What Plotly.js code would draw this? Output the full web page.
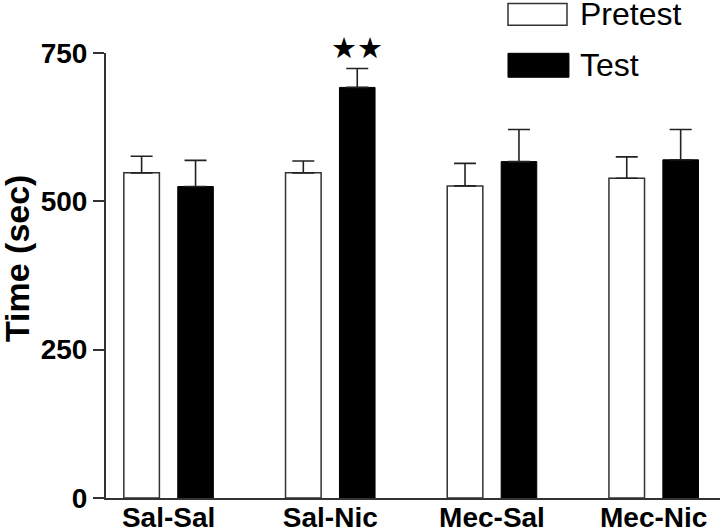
<!DOCTYPE html>
<html>
<head>
<meta charset="utf-8">
<script src="https://cdn.plot.ly/plotly-3.0.1.min.js"></script>
<style>html,body{margin:0;padding:0;background:#fff;}#chart{width:720px;height:531px;}</style>
</head>
<body>
<div id="chart"></div>
<script>
// Data
var groups = ["Sal-Sal", "Sal-Nic", "Mec-Sal", "Mec-Nic"];
var pretestValues = [548, 548, 526, 539];
var pretestErrors = [28, 20, 38, 36];
var testValues = [525, 692, 567, 570];
var testErrors = [44, 32, 54, 51];
var seriesNames = ["Pretest", "Test"];
var yTicks = [0, 250, 500, 750];
var yTitle = "Time (sec)";
var sigLabel = "\u2605\u2605";

var zeros = groups.map(function () { return 0; });

var pretest = {
  type: "bar", name: seriesNames[0], x: groups, y: pretestValues,
  marker: { color: "#ffffff", line: { color: "#333333", width: 1.5 } },
  error_y: { type: "data", symmetric: false, array: pretestErrors, arrayminus: zeros,
             color: "#222222", thickness: 1.6, width: 11 },
  showlegend: false, hoverinfo: "skip"
};
var test = {
  type: "bar", name: seriesNames[1], x: groups, y: testValues,
  marker: { color: "#000000", line: { color: "#000000", width: 1 } },
  error_y: { type: "data", symmetric: false, array: testErrors, arrayminus: zeros,
             color: "#222222", thickness: 1.6, width: 11 },
  showlegend: false, hoverinfo: "skip"
};

var font = "Liberation Sans, Arial, Helvetica, sans-serif";

var layout = {
  width: 720, height: 531,
  margin: { l: 106, r: 0, t: 53, b: 33, pad: 0 },
  paper_bgcolor: "#ffffff", plot_bgcolor: "#ffffff",
  barmode: "group", bargap: 0.333, bargroupgap: 0.34,
  showlegend: false,
  xaxis: {
    type: "category", range: [-0.387, 3.41],
    showline: true, linecolor: "#333333", linewidth: 2,
    ticks: "", showgrid: false, zeroline: false, ticklabelstandoff: -7,
    tickfont: { family: font, size: 28, color: "#000000", weight: "bold" }
  },
  yaxis: {
    range: [0, 750], tickvals: yTicks, ticktext: yTicks.map(String),
    showline: true, linecolor: "#333333", linewidth: 2,
    ticks: "outside", ticklen: 11, tickwidth: 2, tickcolor: "#333333",
    showgrid: false, zeroline: false,
    tickfont: { family: font, size: 28, color: "#000000", weight: "bold" }
  },
  shapes: [
    { type: "rect", xref: "paper", yref: "paper", x0: 0.6547, x1: 0.7508, y0: 1.0622, y1: 1.1115,
      line: { color: "#333333", width: 1.5 }, fillcolor: "#ffffff" },
    { type: "rect", xref: "paper", yref: "paper", x0: 0.6547, x1: 0.7540, y0: 0.9455, y1: 0.9993,
      line: { color: "#000000", width: 1 }, fillcolor: "#000000" }
  ],
  annotations: [
    { xref: "paper", yref: "paper", x: -0.145, y: 0.539, xanchor: "center", yanchor: "middle",
      text: yTitle, textangle: -90, showarrow: false,
      font: { family: font, size: 34, color: "#000000", weight: "bold" } },
    { xref: "paper", yref: "paper", x: 0.7687, y: 1.0869, xanchor: "left", yanchor: "middle",
      text: seriesNames[0], showarrow: false,
      font: { family: font, size: 32, color: "#000000" } },
    { xref: "paper", yref: "paper", x: 0.7687, y: 0.9725, xanchor: "left", yanchor: "middle",
      text: seriesNames[1], showarrow: false,
      font: { family: font, size: 32, color: "#000000" } },
    { xref: "x", yref: "y", x: groups[1], y: testValues[1] + testErrors[1],
      xshift: 27, yshift: 1, xanchor: "center", yanchor: "bottom",
      text: sigLabel, showarrow: false,
      font: { family: "DejaVu Sans, sans-serif", size: 29, color: "#000000" } }
  ]
};

Plotly.newPlot("chart", [pretest, test], layout, { staticPlot: true, displayModeBar: false });
</script>
</body>
</html>
